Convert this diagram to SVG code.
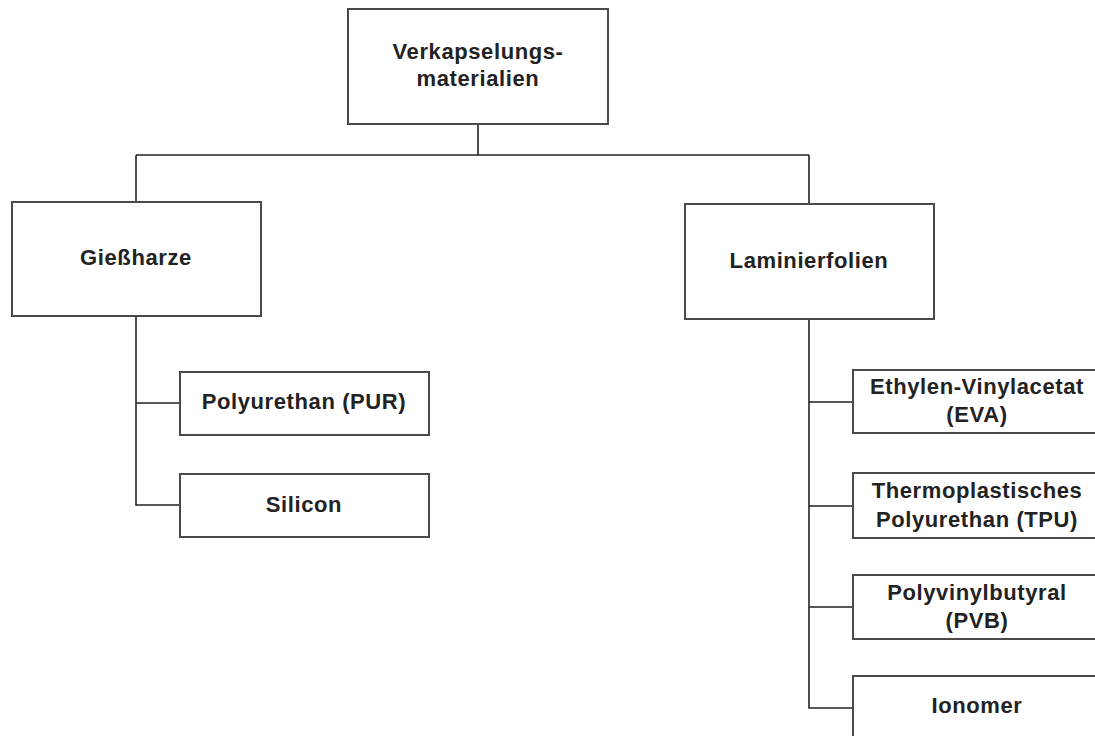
<svg xmlns="http://www.w3.org/2000/svg" width="1095" height="736" viewBox="0 0 1095 736">
<style>
.box{fill:#fff;stroke:#4a4a4a;stroke-width:2}
.t{font-family:"Liberation Sans",Arial,sans-serif;font-weight:bold;font-size:22px;letter-spacing:0.6px;fill:#222;text-anchor:middle}
.c{fill:none;stroke:#222;stroke-width:1.6}
</style>
<rect width="1095" height="736" fill="#fff"/>
<g id="connectors">
<path class="c" d="M478 124V155M136 155H809M136 155V202M809 155V204"/>
<path class="c" d="M136 316V505H180M136 403H180"/>
<path class="c" d="M809 319V708H853M809 402H853M809 506H853M809 607H853"/>
</g>
<g id="root"><rect class="box" x="348" y="9" width="260" height="115"/>
<text class="t" x="478" y="59">Verkapselungs-</text><text class="t" x="478" y="86">materialien</text></g>
<g id="giessharze"><rect class="box" x="12" y="202" width="249" height="114"/>
<text class="t" x="136" y="265">Gießharze</text></g>
<g id="laminierfolien"><rect class="box" x="685" y="204" width="249" height="115"/>
<text class="t" x="809" y="268">Laminierfolien</text></g>
<g id="pur"><rect class="box" x="180" y="372" width="249" height="63"/>
<text class="t" x="304" y="409">Polyurethan (PUR)</text></g>
<g id="silicon"><rect class="box" x="180" y="474" width="249" height="63"/>
<text class="t" x="304" y="512">Silicon</text></g>
<g id="eva"><rect class="box" x="853" y="370" width="249" height="63"/>
<text class="t" x="977" y="394">Ethylen-Vinylacetat</text><text class="t" x="977" y="422">(EVA)</text></g>
<g id="tpu"><rect class="box" x="853" y="473" width="249" height="65"/>
<text class="t" x="977" y="498">Thermoplastisches</text><text class="t" x="977" y="527">Polyurethan (TPU)</text></g>
<g id="pvb"><rect class="box" x="853" y="575" width="249" height="64"/>
<text class="t" x="977" y="600">Polyvinylbutyral</text><text class="t" x="977" y="628">(PVB)</text></g>
<g id="ionomer"><rect class="box" x="853" y="676" width="249" height="80"/>
<text class="t" x="977" y="713">Ionomer</text></g>
</svg>
